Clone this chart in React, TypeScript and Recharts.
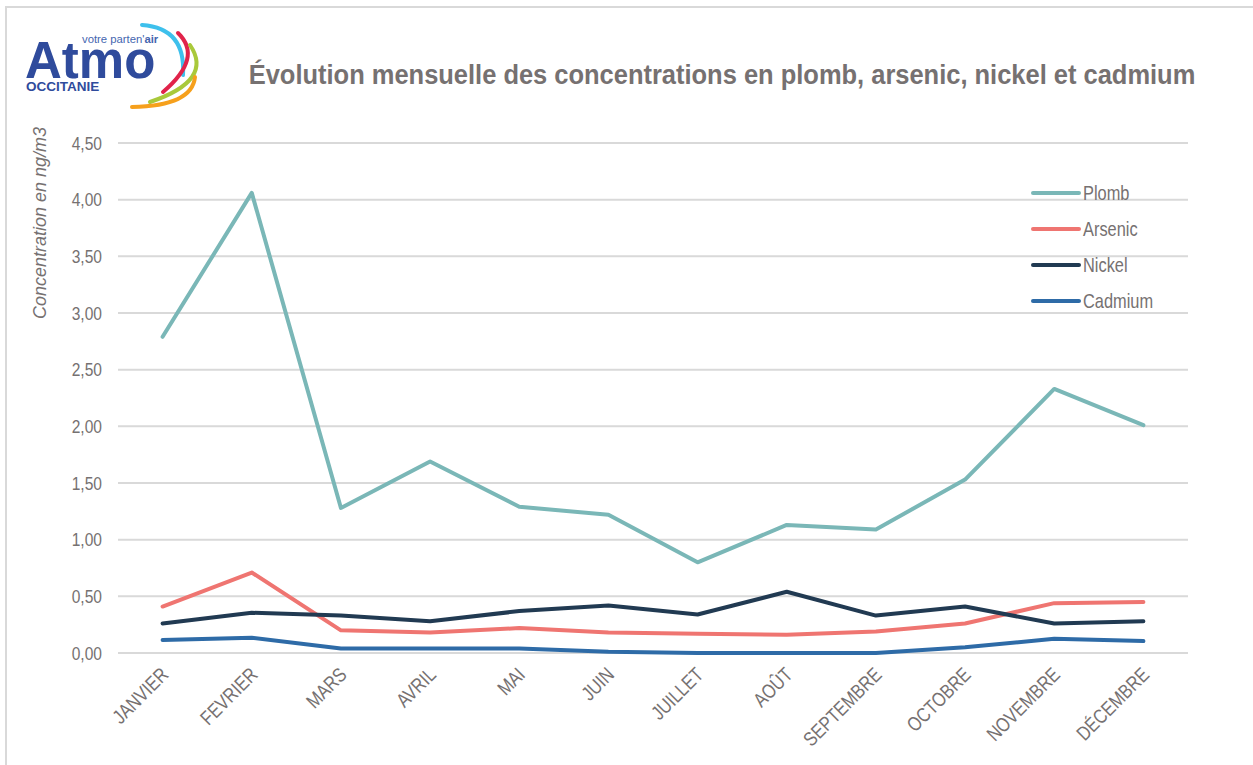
import React from 'react';
import { LineChart, Line, XAxis, YAxis, CartesianGrid, Legend } from 'recharts';

const months = ['JANVIER', 'FEVRIER', 'MARS', 'AVRIL', 'MAI', 'JUIN', 'JUILLET', 'AOÛT', 'SEPTEMBRE', 'OCTOBRE', 'NOVEMBRE', 'DÉCEMBRE'];
const plomb = [2.79, 4.06, 1.28, 1.69, 1.29, 1.22, 0.8, 1.13, 1.09, 1.53, 2.33, 2.01];
const arsenic = [0.41, 0.71, 0.2, 0.18, 0.22, 0.18, 0.17, 0.16, 0.19, 0.26, 0.44, 0.45];
const nickel = [0.26, 0.355, 0.33, 0.28, 0.37, 0.42, 0.34, 0.54, 0.33, 0.41, 0.26, 0.28];
const cadmium = [0.115, 0.135, 0.04, 0.04, 0.04, 0.01, 0.0, 0.0, 0.0, 0.05, 0.125, 0.105];
const yTicks = [0, 0.5, 1, 1.5, 2, 2.5, 3, 3.5, 4, 4.5];

const series = [
  { key: 'plomb', name: 'Plomb', color: '#7ab7b7' },
  { key: 'arsenic', name: 'Arsenic', color: '#ef7571' },
  { key: 'nickel', name: 'Nickel', color: '#213a52' },
  { key: 'cadmium', name: 'Cadmium', color: '#2e6ba7' },
];

const data = months.map((m, i) => ({
  mois: m,
  plomb: plomb[i],
  arsenic: arsenic[i],
  nickel: nickel[i],
  cadmium: cadmium[i],
}));

const FONT = "'Liberation Sans', Arial, sans-serif";
const GREY = '#767171';
// the source uses a condensed face; squeeze Liberation Sans horizontally
const NARROW = 0.82;

function MonthTick({ x, y, payload }: any) {
  return (
    <g transform={`translate(${x + 7},${y + 15}) rotate(-45) scale(${NARROW},1)`}>
      <text x={0} y={0} textAnchor="end" fill={GREY} fontSize={20} fontFamily={FONT}>
        {payload.value}
      </text>
    </g>
  );
}

function ValueTick({ x, y, payload }: any) {
  return (
    <g transform={`translate(${x},${y}) scale(${NARROW},1)`}>
      <text x={0} y={0} dy="0.355em" textAnchor="end" fill={GREY} fontSize={19} fontFamily={FONT}>
        {payload.value.toFixed(2).replace('.', ',')}
      </text>
    </g>
  );
}

function LegendBox({ payload }: any) {
  const items = [...(payload || [])].sort(
    (a: any, b: any) => series.findIndex((s) => s.name === a.value) - series.findIndex((s) => s.name === b.value)
  );
  return (
    <svg width={160} height={150}>
      {items.map((p: any, i: number) => (
        <g key={p.value} transform={`translate(0,${15 + i * 36})`}>
          <line x1={4} x2={50} y1={0} y2={0} stroke={p.color} strokeWidth={4} strokeLinecap="round" />
          <g transform={`translate(54,7) scale(${NARROW},1)`}>
            <text x={0} y={0} fill={GREY} fontSize={20} fontFamily={FONT}>{p.value}</text>
          </g>
        </g>
      ))}
    </svg>
  );
}

function Logo() {
  return (
    <g fontFamily={FONT}>
      <text x={25} y={78} fontSize={51} fontWeight="bold" fill="#2f4b9c">Atmo</text>
      <text x={82} y={43} fontSize={11.3} fill="#4566b0">
        votre parten'<tspan fontWeight="bold">air</tspan>
      </text>
      <text x={26} y={91} fontSize={13.5} fontWeight="bold" fill="#2f4b9c">OCCITANIE</text>
      <path d="M142,25 Q186,28 183,75" stroke="#3ec0ec" strokeWidth={4} fill="none" strokeLinecap="round" />
      <path d="M178,33 Q203.5,57.5 163,92" stroke="#e1234a" strokeWidth={4} fill="none" strokeLinecap="round" />
      <path d="M190,45 Q214,80.5 150,102" stroke="#a9c93b" strokeWidth={4} fill="none" strokeLinecap="round" />
      <path d="M195,77 Q192,106 132,107" stroke="#f6a01c" strokeWidth={4} fill="none" strokeLinecap="round" />
    </g>
  );
}

export default function App() {
  return (
    <div style={{ position: 'absolute', left: 0, top: 0, width: 1253, height: 765, background: '#fff', overflow: 'hidden' }}>
      <LineChart width={1253} height={765} data={data} margin={{ top: 143, right: 65, bottom: 0, left: 0 }}>
        <CartesianGrid horizontal vertical={false} stroke="#d9d9d9" strokeWidth={2} />
        <XAxis
          dataKey="mois"
          height={112}
          axisLine={false}
          tickLine={false}
          interval={0}
          padding={{ left: 44.6, right: 44.6 }}
          tick={<MonthTick />}
        />
        <YAxis
          width={118}
          domain={[0, 4.5]}
          ticks={yTicks}
          axisLine={false}
          tickLine={false}
          tickMargin={10}
          tick={<ValueTick />}
        />
        <Legend
          layout="vertical"
          align="center"
          verticalAlign="middle"
          wrapperStyle={{ left: 1029, top: 178, width: 160, height: 150 }}
          content={<LegendBox />}
        />
        {series.map((s) => (
          <Line
            key={s.key}
            type="linear"
            dataKey={s.key}
            name={s.name}
            stroke={s.color}
            strokeWidth={4}
            strokeLinecap="round"
            strokeLinejoin="round"
            dot={false}
            activeDot={false}
            isAnimationActive={false}
          />
        ))}
      </LineChart>
      <svg width={1253} height={765} style={{ position: 'absolute', left: 0, top: 0, pointerEvents: 'none' }}>
        <rect x={6} y={7} width={1300} height={800} fill="none" stroke="#d9d9d9" strokeWidth={2} />
        <Logo />
        <g transform="translate(722,84) scale(0.91,1)">
          <text x={0} y={0} textAnchor="middle" fontSize={28} fontWeight="bold" fill={GREY} fontFamily={FONT}>
            Évolution mensuelle des concentrations en plomb, arsenic, nickel et cadmium
          </text>
        </g>
        <text
          transform="translate(46,223) rotate(-90)"
          textAnchor="middle"
          fontSize={18}
          fontStyle="italic"
          fill={GREY}
          fontFamily={FONT}
        >
          Concentration en ng/m3
        </text>
      </svg>
    </div>
  );
}
